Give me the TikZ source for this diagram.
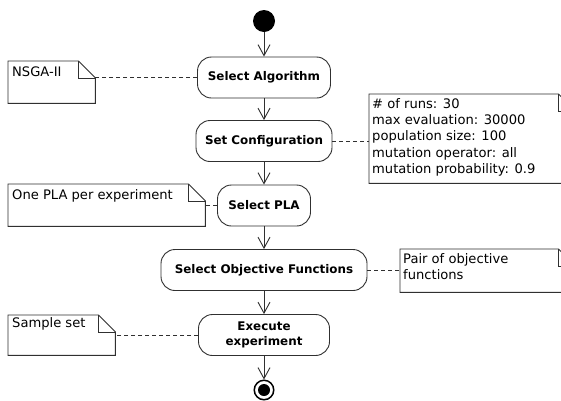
\documentclass[tikz,border=0pt]{standalone}
\usepackage{fontspec}
\setmainfont{DejaVu Sans}
\usetikzlibrary{arrows.meta}
\definecolor{linec}{HTML}{303030}
\newcommand{\drawnote}[1]{%
  \draw[noteline] (#1.north west) -- ([xshift=-17pt]#1.north east) -- ([yshift=-17pt]#1.north east) -- (#1.south east) -- (#1.south west) -- cycle;
  \draw[noteline] ([xshift=-17pt]#1.north east) |- ([yshift=-17pt]#1.north east);}
\begin{document}
\begin{tikzpicture}[x=1pt,y=-1pt,
  act/.style={draw=linec, line width=0.9pt, rounded corners=14pt, fill=white,
    font=\bfseries\fontsize{11.9}{14.5}\selectfont, align=center,
    minimum height=41pt, inner sep=0pt},
  note/.style={anchor=north west, inner sep=0pt, draw=none},
  noteline/.style={draw=linec, line width=0.9pt},
  notetext/.style={anchor=north west, inner sep=0pt, align=left,
    font=\fontsize{13.1}{16.3}\selectfont},
  flow/.style={draw=linec, line width=0.9pt, -{Straight Barb[length=11pt,width=12pt]}},
  link/.style={draw=linec, line width=0.9pt, dash pattern=on 4pt off 3pt}]
\useasboundingbox (0,0) rectangle (561,400);
\clip (0,0) rectangle (561,400);
\fill[white] (0,0) rectangle (561,400);

% activities
\node[circle, fill=black, minimum size=22pt, inner sep=0pt] (start) at (264,21) {};
\node[act, minimum width=133pt] (sa) at (264,77.5) {Select Algorithm};
\node[act, minimum width=136pt] (sc) at (264,141) {Set Configuration};
\node[act, minimum width=93pt] (sp) at (264,205.5) {Select PLA};
\node[act, minimum width=206pt] (so) at (264,270) {Select Objective Functions};
\node[act, minimum width=131pt] (se) at (264,335) {Execute\\experiment};
\node[circle, draw=black, line width=1.5pt, minimum size=19.5pt, inner sep=0pt,
  path picture={\fill[black] (path picture bounding box.center) circle (6pt);}] (end) at (264,390) {};

% flows
\draw[flow] (start) -- (sa);
\draw[flow] (sa) -- (sc);
\draw[flow] (sc) -- (sp);
\draw[flow] (sp) -- (so);
\draw[flow] (so) -- (se);
\draw[flow] (se) -- (end);

% notes
\node[note, minimum width=87pt, minimum height=42pt] (n1) at (8,61) {};
\drawnote{n1}
\node[notetext] (t1) at (12,66.5) {NSGA-II};

\node[note, minimum width=206pt, minimum height=89pt] (n2) at (369,94) {};
\drawnote{n2}
\node[notetext] (t2) at (372,98) {\# of runs: 30\\max evaluation: 30000\\population size: 100\\mutation operator: all\\mutation probability: 0.9};

\node[note, minimum width=197pt, minimum height=42pt] (n3) at (8,184) {};
\drawnote{n3}
\node[notetext] (t3) at (12,189) {One PLA per experiment};

\node[note, minimum width=175pt, minimum height=43pt] (n4) at (400,249) {};
\drawnote{n4}
\node[notetext] (t4) at (403,253) {Pair of objective\\functions};

\node[note, minimum width=107pt, minimum height=40pt] (n5) at (8,315) {};
\drawnote{n5}
\node[notetext] (t5) at (12,317) {Sample set};

% note links
\draw[link] (sa.west) -- (sa.west -| n1.east);
\draw[link] (sc.east) -- (sc.east -| n2.west);
\draw[link] (sp.west) -- (sp.west -| n3.east);
\draw[link] (so.east) -- (so.east -| n4.west);
\draw[link] (se.west) -- (se.west -| n5.east);
\end{tikzpicture}
\end{document}
